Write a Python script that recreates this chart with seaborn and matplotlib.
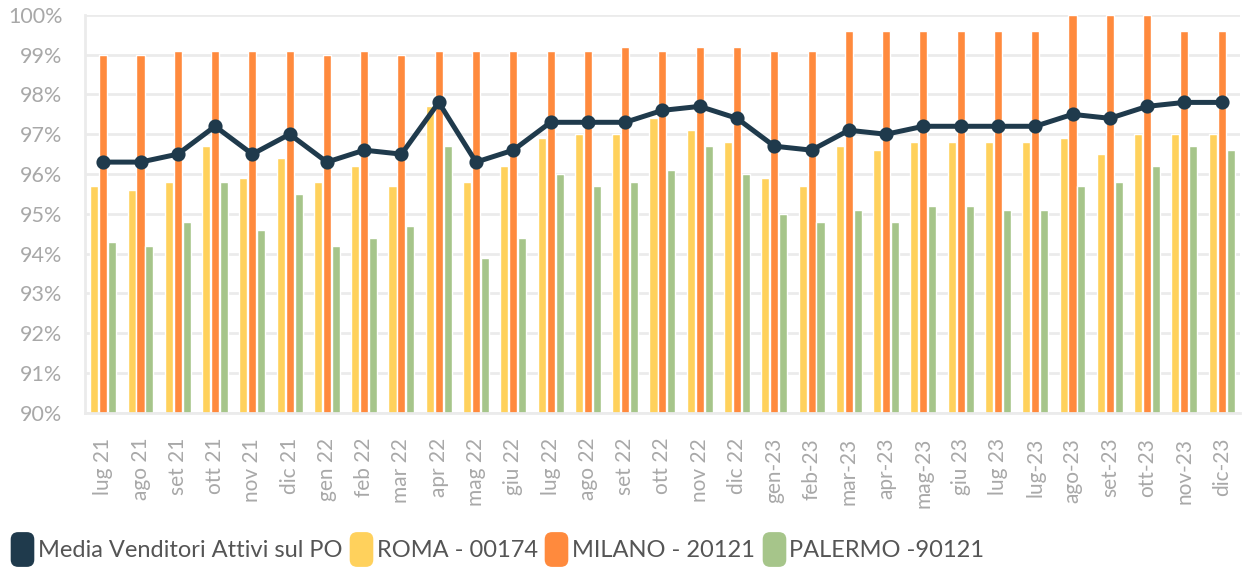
import numpy as np
import pandas as pd
import matplotlib

matplotlib.use("Agg")
import matplotlib.pyplot as plt
import seaborn as sns
from matplotlib.lines import Line2D
from matplotlib.patches import FancyBboxPatch

MONTHS = ["lug 21", "ago 21", "set 21", "ott 21", "nov 21", "dic 21",
          "gen 22", "feb 22", "mar 22", "apr 22", "mag 22", "giu 22",
          "lug 22", "ago 22", "set 22", "ott 22", "nov 22", "dic 22",
          "gen-23", "feb-23", "mar-23", "apr-23", "mag-23", "giu 23",
          "lug 23", "lug-23", "ago-23", "set-23", "ott-23", "nov-23", "dic-23"]

MEDIA = [96.3, 96.3, 96.5, 97.2, 96.5, 97.0, 96.3, 96.6, 96.5, 97.8, 96.3,
         96.6, 97.3, 97.3, 97.3, 97.6, 97.7, 97.4, 96.7, 96.6, 97.1, 97.0,
         97.2, 97.2, 97.2, 97.2, 97.5, 97.4, 97.7, 97.8, 97.8]
ROMA = [95.7, 95.6, 95.8, 96.7, 95.9, 96.4, 95.8, 96.2, 95.7, 97.7, 95.8,
        96.2, 96.9, 97.0, 97.0, 97.4, 97.1, 96.8, 95.9, 95.7, 96.7, 96.6,
        96.8, 96.8, 96.8, 96.8, 96.9, 96.5, 97.0, 97.0, 97.0]
MILANO = [99.0, 99.0, 99.1, 99.1, 99.1, 99.1, 99.0, 99.1, 99.0, 99.1, 99.1,
          99.1, 99.1, 99.1, 99.2, 99.1, 99.2, 99.2, 99.1, 99.1, 99.6, 99.6,
          99.6, 99.6, 99.6, 99.6, 100.0, 100.0, 100.0, 99.6, 99.6]
PALERMO = [94.3, 94.2, 94.8, 95.8, 94.6, 95.5, 94.2, 94.4, 94.7, 96.7, 93.9,
           94.4, 96.0, 95.7, 95.8, 96.1, 96.7, 96.0, 95.0, 94.8, 95.1, 94.8,
           95.2, 95.2, 95.1, 95.1, 95.7, 95.8, 96.2, 96.7, 96.6]

SERIES = ["ROMA - 00174", "MILANO - 20121", "PALERMO -90121"]
LINE_NAME = "Media Venditori Attivi sul PO"
COLORS = {"ROMA - 00174": "#FFD15C",
          "MILANO - 20121": "#FF8A3D",
          "PALERMO -90121": "#A6C58A"}
NAVY = "#1F3A4C"
GRID = "#EBEBEB"

sns.set_theme(style="white")
plt.rcParams["font.family"] = ["Lato", "DejaVu Sans"]

bars = pd.DataFrame({
    "mese": MONTHS * 3,
    "serie": np.repeat(SERIES, len(MONTHS)),
    "valore": ROMA + MILANO + PALERMO,
})
media = pd.DataFrame({"mese": MONTHS, "valore": MEDIA})

fig, ax = plt.subplots(figsize=(12.44, 5.71), dpi=100)
fig.subplots_adjust(left=0.068, right=0.997, top=0.974, bottom=0.277)

sns.barplot(data=bars, x="mese", y="valore", hue="serie", order=MONTHS,
            hue_order=SERIES, palette=COLORS, width=0.72, gap=0.1,
            saturation=1, ax=ax, legend=False, zorder=2)
sns.pointplot(data=media, x="mese", y="valore", order=MONTHS, color=NAVY,
              markers="o", markersize=7.5, linewidth=3.6, ax=ax, zorder=4)

ax.set_ylim(90, 100)
ax.set_yticks(np.arange(90, 101, 1))
ax.set_yticklabels([f"{v}%" for v in range(90, 101)])
ax.set_xlim(-0.5, len(MONTHS) - 0.5)
ax.set_xlabel("")
ax.set_ylabel("")
ax.yaxis.grid(True, color=GRID, linewidth=2)
ax.set_axisbelow(True)
for side in ["top", "right"]:
    ax.spines[side].set_visible(False)
for side in ["left", "bottom"]:
    ax.spines[side].set_color(GRID)
    ax.spines[side].set_linewidth(2)
ax.tick_params(axis="y", length=12, width=2, color=GRID, pad=4,
               labelsize=15.5, labelcolor="#A8A8A8")
ax.tick_params(axis="x", length=10, width=2, color=GRID, pad=8,
               labelsize=15, labelcolor="#A8A8A8", rotation=90)

# legend with rounded handles
box = FancyBboxPatch((-0.5, -0.75), 1, 1.5,
                     boxstyle="round,pad=0,rounding_size=0.3")
rshape = box.get_path()
handles = [Line2D([], [], ls="", marker=rshape, markersize=24,
                  markerfacecolor=c, markeredgecolor=c)
           for c in [NAVY] + [COLORS[s] for s in SERIES]]
fig.legend(handles, [LINE_NAME] + SERIES, loc="lower left",
           bbox_to_anchor=(0.0, -0.008), ncol=4, frameon=False,
           fontsize=17, labelcolor="#555555", handlelength=0.7,
           handletextpad=0.3, columnspacing=0.45, borderaxespad=0.2)

fig.savefig("out.png", dpi=100)
